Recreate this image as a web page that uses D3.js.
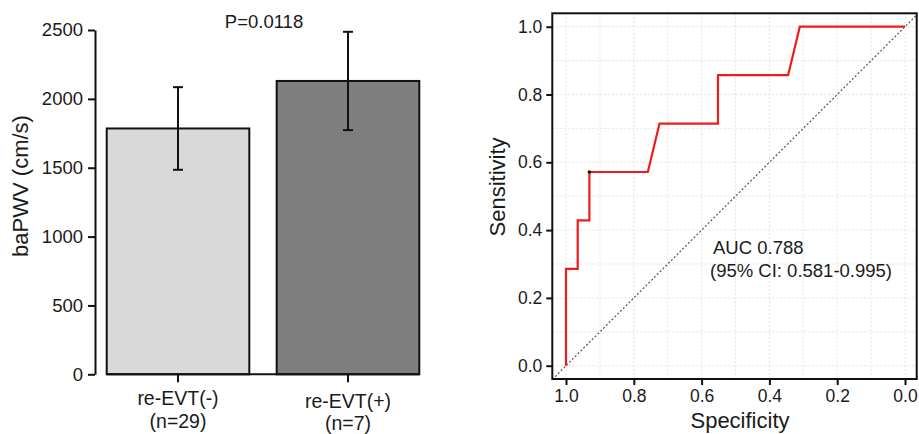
<!DOCTYPE html>
<html>
<head>
<meta charset="utf-8">
<script src="https://cdn.jsdelivr.net/npm/d3@7"></script>
<style>
  body { margin: 0; background: #fff; }
  svg { display: block; font-family: "Liberation Sans", Arial, sans-serif; }
  text { fill: #1a1a1a; }
</style>
</head>
<body>
<svg id="chart" width="919" height="434"></svg>
<script>
// bar panel data
const groups = ["re-EVT(-)", "re-EVT(+)"];
const groupN = ["(n=29)", "(n=7)"];
const meanPWV = [1785, 2130];
const sdPWV = [300, 357];
const barColors = ["#d9d9d9", "#7f7f7f"];
const yTicksBar = [0, 500, 1000, 1500, 2000, 2500];

// ROC panel data (specificity, sensitivity)
const rocSpec = [1.0, 1.0, 0.9655, 0.9655, 0.931, 0.931, 0.7586, 0.7241, 0.5517, 0.5517, 0.3448, 0.3103, 0.0];
const rocSens = [0.0, 0.2857, 0.2857, 0.4286, 0.4286, 0.5714, 0.5714, 0.7143, 0.7143, 0.8571, 0.8571, 1.0, 1.0];
const bestPoint = [0.931, 0.5714];
const rocTicks = [1.0, 0.8, 0.6, 0.4, 0.2, 0.0];
const gridVals = d3.range(0, 11).map(d => d / 10);

const svg = d3.select("#chart");

// ---------- left: bar chart ----------
var y = d3.scaleLinear().domain([0, 2500]).range([374.3, 30]);
var x = d3.scaleBand().domain(groups).range([106.7, 419.3]).paddingInner(0.161).paddingOuter(0);

var left = svg.append("g");

left.selectAll(".bar")
    .data(groups)
    .enter().append("rect")
    .attr("x", d => x(d))
    .attr("y", (d, i) => y(meanPWV[i]))
    .attr("width", x.bandwidth())
    .attr("height", (d, i) => y(0) - y(meanPWV[i]))
    .style("fill", (d, i) => barColors[i])
    .style("stroke", "#111")
    .style("stroke-width", 2);

// baseline under bars + ticks
left.append("line")
    .attr("x1", x.range()[0]).attr("x2", x.range()[1])
    .attr("y1", y(0)).attr("y2", y(0))
    .style("stroke", "#111").style("stroke-width", 2);
left.selectAll(".xtick")
    .data(groups)
    .enter().append("line")
    .attr("x1", d => x(d) + x.bandwidth() / 2)
    .attr("x2", d => x(d) + x.bandwidth() / 2)
    .attr("y1", y(0)).attr("y2", y(0) + 8)
    .style("stroke", "#111").style("stroke-width", 2);

// error bars
var eb = left.selectAll(".err").data(groups).enter().append("g");
eb.append("line")
    .attr("x1", d => x(d) + x.bandwidth() / 2)
    .attr("x2", d => x(d) + x.bandwidth() / 2)
    .attr("y1", (d, i) => y(meanPWV[i] + sdPWV[i]))
    .attr("y2", (d, i) => y(meanPWV[i] - sdPWV[i]));
eb.append("line")
    .attr("x1", d => x(d) + x.bandwidth() / 2 - 5)
    .attr("x2", d => x(d) + x.bandwidth() / 2 + 5)
    .attr("y1", (d, i) => y(meanPWV[i] + sdPWV[i]))
    .attr("y2", (d, i) => y(meanPWV[i] + sdPWV[i]));
eb.append("line")
    .attr("x1", d => x(d) + x.bandwidth() / 2 - 5)
    .attr("x2", d => x(d) + x.bandwidth() / 2 + 5)
    .attr("y1", (d, i) => y(meanPWV[i] - sdPWV[i]))
    .attr("y2", (d, i) => y(meanPWV[i] - sdPWV[i]));
eb.selectAll("line").style("stroke", "#111").style("stroke-width", 2);

// y axis
var yAxis = left.append("g")
    .attr("transform", "translate(95,0)")
    .call(d3.axisLeft(y).tickValues(yTicksBar).tickFormat(d3.format("d"))
        .tickSize(7).tickSizeOuter(0).tickPadding(5));
yAxis.attr("font-family", null);
yAxis.select(".domain").style("stroke", "#111").style("stroke-width", 2);
yAxis.selectAll(".tick line").style("stroke", "#111").style("stroke-width", 2);
yAxis.selectAll(".tick text").style("font-size", "18.5px").style("fill", "#1a1a1a");

// x labels
left.selectAll(".xlab")
    .data(groups)
    .enter().append("text")
    .attr("x", d => x(d) + x.bandwidth() / 2)
    .attr("y", (d, i) => 405 + i * 3)
    .attr("text-anchor", "middle")
    .style("font-size", "19.5px")
    .text(d => d);
left.selectAll(".xlab2")
    .data(groupN)
    .enter().append("text")
    .attr("x", (d, i) => x(groups[i]) + x.bandwidth() / 2)
    .attr("y", (d, i) => 428 + i * 2)
    .attr("text-anchor", "middle")
    .style("font-size", "19.5px")
    .text(d => d);

left.append("text")
    .attr("transform", "translate(28,186) rotate(-90)")
    .attr("text-anchor", "middle")
    .style("font-size", "22px")
    .text("baPWV (cm/s)");

left.append("text")
    .attr("x", 264).attr("y", 28)
    .attr("text-anchor", "middle")
    .style("font-size", "18.5px")
    .text("P=0.0118");

// ---------- right: ROC ----------
const box = { left: 552.3, right: 916.7, top: 13.3, bottom: 379 };
var sx = d3.scaleLinear().domain([1, 0]).range([566, 905]);
var sy = d3.scaleLinear().domain([0, 1]).range([365.7, 26.7]);

var right = svg.append("g");

right.append("clipPath").attr("id", "rocclip")
    .append("rect")
    .attr("x", box.left).attr("y", box.top)
    .attr("width", box.right - box.left).attr("height", box.bottom - box.top);

// grid
right.selectAll(".gx")
    .data(gridVals)
    .enter().append("line")
    .attr("x1", d => sx(d)).attr("x2", d => sx(d))
    .attr("y1", box.top).attr("y2", box.bottom)
    .style("stroke", "#e2e2e2").style("stroke-width", 1).style("stroke-dasharray", "2,2");
right.selectAll(".gy")
    .data(gridVals)
    .enter().append("line")
    .attr("y1", d => sy(d)).attr("y2", d => sy(d))
    .attr("x1", box.left).attr("x2", box.right)
    .style("stroke", "#e2e2e2").style("stroke-width", 1).style("stroke-dasharray", "2,2");

// diagonal reference line
var s0 = sx.invert(box.left), s1 = sx.invert(box.right);
right.append("line")
    .attr("clip-path", "url(#rocclip)")
    .attr("x1", sx(s0)).attr("y1", sy(1 - s0))
    .attr("x2", sx(s1)).attr("y2", sy(1 - s1))
    .style("stroke", "#555").style("stroke-width", 1.2).style("stroke-dasharray", "2,2");

// ROC curve
var rocLine = d3.line()
    .x((d, i) => sx(rocSpec[i]))
    .y((d, i) => sy(rocSens[i]));
right.append("path")
    .datum(rocSpec)
    .attr("d", rocLine)
    .style("fill", "none")
    .style("stroke", "#ee1c1c")
    .style("stroke-width", 2.2);

right.append("circle")
    .attr("cx", sx(bestPoint[0])).attr("cy", sy(bestPoint[1]))
    .attr("r", 1.8).style("fill", "#111");

// frame
right.append("rect")
    .attr("x", box.left).attr("y", box.top)
    .attr("width", box.right - box.left).attr("height", box.bottom - box.top)
    .style("fill", "none").style("stroke", "#111").style("stroke-width", 2);

// axes
var bx = right.append("g")
    .attr("transform", "translate(0," + box.bottom + ")")
    .call(d3.axisBottom(sx).tickValues(rocTicks).tickFormat(d3.format(".1f")).tickSize(6).tickSizeOuter(0).tickPadding(5));
var ly = right.append("g")
    .attr("transform", "translate(" + box.left + ",0)")
    .call(d3.axisLeft(sy).tickValues(rocTicks).tickFormat(d3.format(".1f")).tickSize(6).tickSizeOuter(0).tickPadding(4));
[bx, ly].forEach(a => {
    a.attr("font-family", null);
    a.select(".domain").remove();
    a.selectAll(".tick line").style("stroke", "#111").style("stroke-width", 2);
    a.selectAll(".tick text").style("font-size", "17.5px").style("fill", "#1a1a1a");
});

right.append("text")
    .attr("x", 740).attr("y", 428)
    .attr("text-anchor", "middle")
    .style("font-size", "22px")
    .text("Specificity");
right.append("text")
    .attr("transform", "translate(505,187) rotate(-90)")
    .attr("text-anchor", "middle")
    .style("font-size", "22px")
    .text("Sensitivity");

right.append("text")
    .attr("x", 713).attr("y", 254)
    .style("font-size", "18.5px")
    .text("AUC 0.788");
right.append("text")
    .attr("x", 710).attr("y", 277)
    .style("font-size", "18.5px")
    .text("(95% CI: 0.581-0.995)");
</script>
</body>
</html>
